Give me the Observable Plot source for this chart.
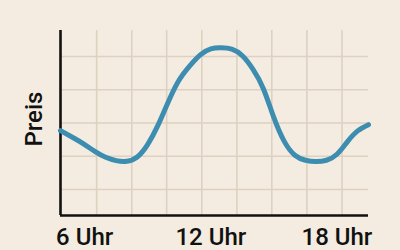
<!DOCTYPE html>
<html><head><meta charset="utf-8">
<script src="https://cdn.jsdelivr.net/npm/d3@7"></script>
<script src="https://cdn.jsdelivr.net/npm/@observablehq/plot@0.6"></script>
<style>
html,body{margin:0;padding:0;background:#f4ece0;overflow:hidden;}
</style></head><body><div id="chart"></div>
<script>
// Data (hour of day, price in arbitrary units)
const hours  = [4.85, 5.5, 6, 6.5, 7, 7.5, 8, 8.5, 9, 9.5, 10, 10.5, 11, 11.5, 12, 12.5, 13, 13.5, 14, 14.5, 15, 15.5, 16, 16.5, 17, 17.5, 18, 18.5, 19, 19.5];
const prices = [2.77, 2.54, 2.35, 2.14, 1.97, 1.87, 1.85, 1.98, 2.36, 2.95, 3.67, 4.30, 4.72, 5.05, 5.23, 5.26, 5.22, 5.02, 4.62, 4.03, 3.16, 2.44, 2.03, 1.88, 1.84, 1.88, 2.06, 2.44, 2.77, 2.95];

const xTicks = [6, 12, 18];
const xTickLabels = ["6 Uhr", "12 Uhr", "18 Uhr"];
const gridXValues = [6.57, 8.24, 9.9, 11.57, 13.24, 14.9, 16.57, 18.24];
const gridYValues = [1, 2, 3, 4, 5];
const xDomain = [4.85, 19.5];
const yDomain = [0.22, 5.78];
const yLabel = "Preis";

const data = hours.map((h, i) => ({hour: h, price: prices[i]}));

const bg = "#f4ece0";
const gridColor = "#ddd2c1";
const font = "Roboto, sans-serif";

const chart = Plot.plot({
  width: 400,
  height: 250,
  marginLeft: 60,
  marginRight: 32,
  marginTop: 30,
  marginBottom: 35,
  style: {background: bg, fontFamily: font, overflow: "visible"},
  x: {domain: xDomain},
  y: {domain: yDomain, axis: null},
  marks: [
    Plot.gridX(gridXValues, {stroke: gridColor, strokeOpacity: 1, strokeWidth: 1.6}),
    Plot.gridY(gridYValues, {stroke: gridColor, strokeOpacity: 1, strokeWidth: 1.6}),
    Plot.axisX(xTicks, {
      tickSize: 0, tickPadding: 12,
      tickFormat: d => xTickLabels[xTicks.indexOf(d)],
      fontSize: 24, fontWeight: 500, fill: "#111", label: null
    }),
    Plot.text([yLabel], {
      frameAnchor: "left", dx: -26, dy: -4, rotate: -90,
      textAnchor: "middle", lineAnchor: "middle",
      fontSize: 24, fontWeight: 500, fill: "#111", fontFamily: font
    }),
    Plot.ruleX([xDomain[0]], {stroke: "#111", strokeWidth: 2.6}),
    Plot.ruleY([yDomain[0]], {stroke: "#111", strokeWidth: 2.6}),
    Plot.line(data, {x: "hour", y: "price", curve: "natural", stroke: "#3d8db1", strokeWidth: 5})
  ]
});
document.getElementById("chart").append(chart);
</script>
</body></html>
